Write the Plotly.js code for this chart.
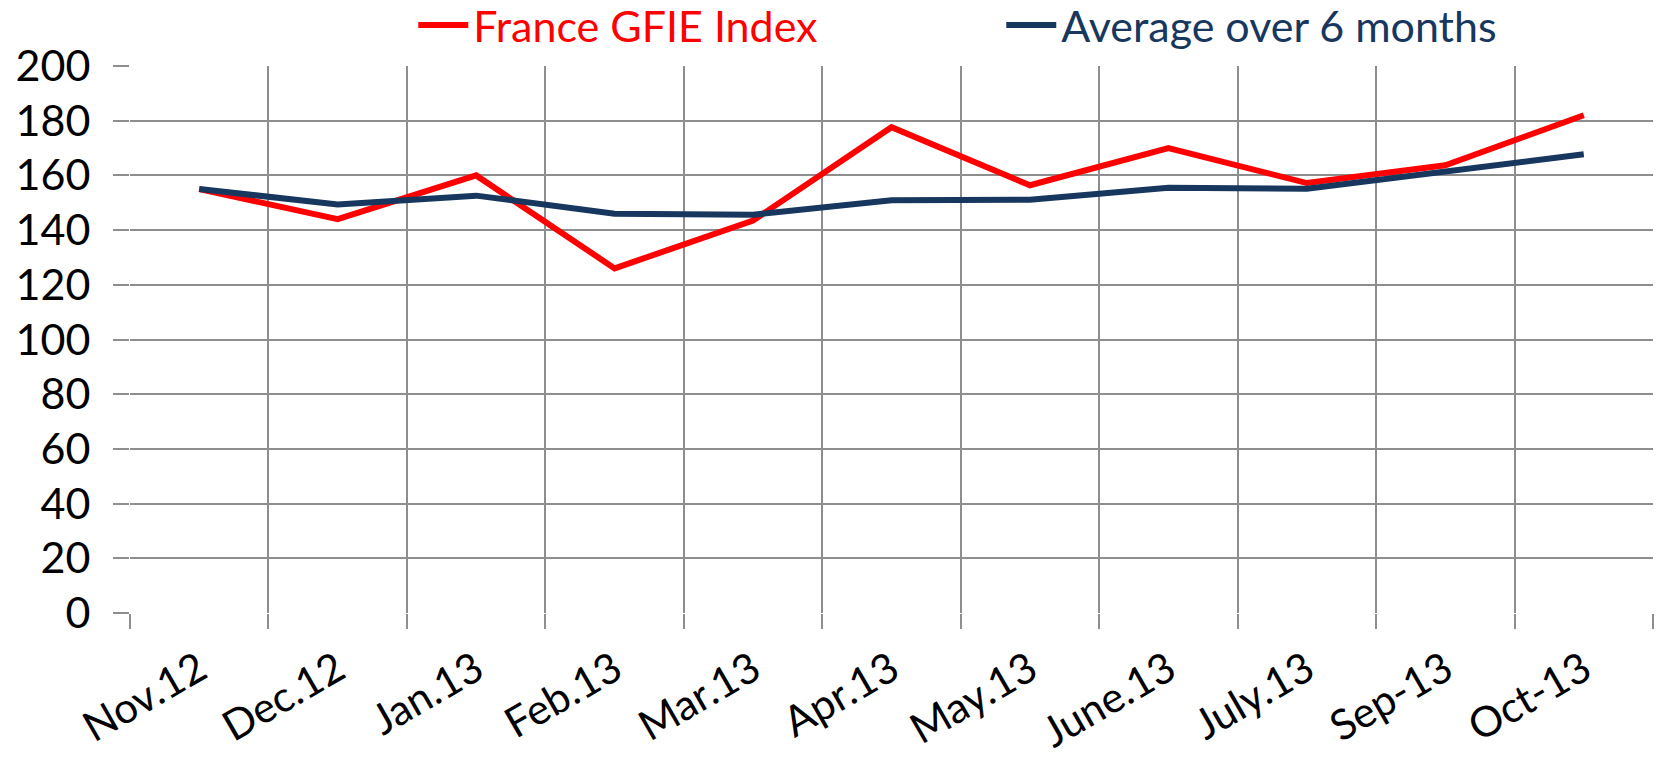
<!DOCTYPE html>
<html>
<head>
<meta charset="utf-8">
<script src="https://cdn.plot.ly/plotly-3.0.1.min.js"></script>
<style>html,body{margin:0;padding:0;background:#fff;}#chart{width:1656px;height:757px;}</style>
</head>
<body>
<div id="chart"></div>
<script>
const categories = ["Nov.12","Dec.12","Jan.13","Feb.13","Mar.13","Apr.13","May.13","June.13","July.13","Sep-13","Oct-13"];
const gfieIndex = [155, 144, 160, 126, 143.5, 177.6, 156.4, 170, 157.2, 163.7, 182];
const average6m = [155, 149.4, 152.6, 146, 145.6, 150.9, 151.1, 155.5, 155.1, 161.3, 167.7];
const yTicks = [0,20,40,60,80,100,120,140,160,180,200];

const RED = "#FF0000";
const BLUE = "#17375E";
const GRID = "#8e8e8e";
const FONT = "Lato, 'Open Sans', sans-serif";

const traces = [
  {x: categories, y: gfieIndex, type: "scatter", mode: "lines",
   name: '<span style="color:' + RED + '">France GFIE Index</span>',
   line: {color: RED, width: 6, shape: "linear"}},
  {x: categories, y: average6m, type: "scatter", mode: "lines",
   name: '<span style="color:' + BLUE + '">Average over 6 months</span>',
   line: {color: BLUE, width: 6, shape: "linear"}}
];

const layout = {
  width: 1656, height: 757,
  margin: {l: 130, r: 3, t: 66, b: 144, pad: 0, autoexpand: false},
  paper_bgcolor: "#fff", plot_bgcolor: "#fff",
  font: {family: FONT, size: 43, color: "#000"},
  showlegend: true,
  legend: {orientation: "h", x: 0.186, xanchor: "left", y: 1.075, yanchor: "middle",
    font: {family: FONT, size: 43}, itemwidth: 50, entrywidth: 523, entrywidthmode: "pixels",
    bgcolor: "rgba(0,0,0,0)", traceorder: "normal"},
  xaxis: {type: "category", tickson: "boundaries", showgrid: true, gridcolor: GRID, gridwidth: 2,
    ticks: "outside", ticklen: 15, tickwidth: 2, tickcolor: GRID,
    tickangle: -30, tickfont: {family: FONT, size: 42, color: "#000"},
    showline: false, zeroline: false, fixedrange: true, range: [-0.5, 10.5], ticklabelstandoff: 23},
  yaxis: {range: [0, 200], tickvals: yTicks, ticktext: yTicks.map(String), showgrid: true,
    gridcolor: GRID, gridwidth: 2, ticks: "outside", ticklen: 16, tickwidth: 2, tickcolor: GRID,
    tickfont: {family: FONT, size: 43, color: "#000"}, zeroline: false, showline: false, ticklabelstandoff: 14},
  shapes: []
};

Plotly.newPlot("chart", traces, layout, {staticPlot: true, displayModeBar: false});
</script>
</body>
</html>
